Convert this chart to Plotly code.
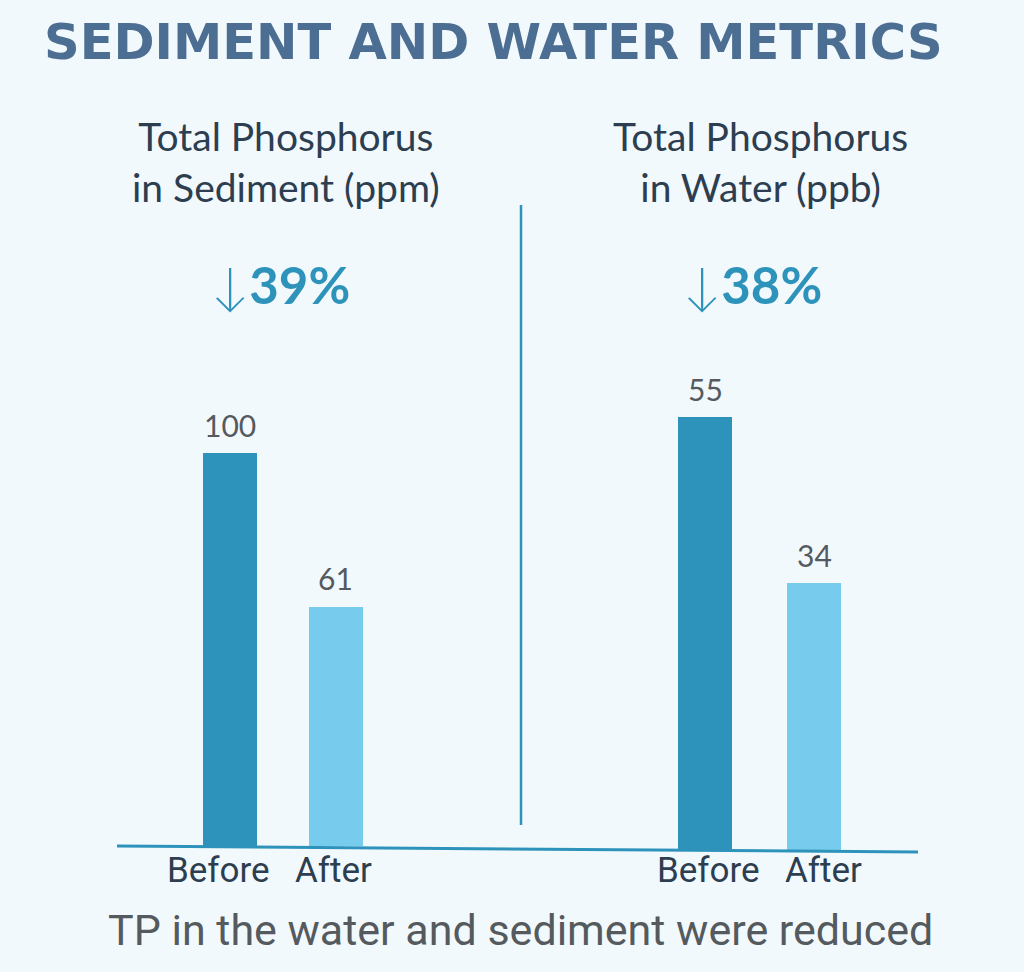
import plotly.graph_objects as go

W, H = 1024, 972

categories = ["Before", "After"]
sediment_values = [100, 61]
water_values = [55, 34]
panel_titles = ["Total Phosphorus<br>in Sediment (ppm)", "Total Phosphorus<br>in Water (ppb)"]
reductions = ["39%", "38%"]
main_title = "SEDIMENT AND WATER METRICS"
footer = "TP in the water and sediment were reduced"

BG = "#f2f9fd"
DARK = "#2e93bb"
LIGHT = "#77cbec"
TITLE_C = "#4b6e92"
TEXT_DARK = "#2c3e50"
GRAY = "#555a5e"


def px(x):
    return x / W


def py(y):
    return 1 - y / H


fig = go.Figure()

fig.add_trace(go.Bar(x=categories, y=sediment_values, marker_color=[DARK, LIGHT],
                     marker_line_width=0, width=0.51, xaxis="x", yaxis="y",
                     showlegend=False, hoverinfo="skip"))
fig.add_trace(go.Bar(x=categories, y=water_values, marker_color=[DARK, LIGHT],
                     marker_line_width=0, width=0.49, xaxis="x2", yaxis="y2",
                     showlegend=False, hoverinfo="skip"))

ann = []
for xa, ya, vals in (("x", "y", sediment_values), ("x2", "y2", water_values)):
    for c, v in zip(categories, vals):
        ann.append(dict(x=c, y=v, xref=xa, yref=ya, text=str(v), showarrow=False,
                        yanchor="bottom", yshift=8,
                        font=dict(family="Lato", size=30, color=GRAY)))

# category labels under the baseline
label_shift = {("x", "Before"): -12, ("x", "After"): -2, ("x2", "Before"): 3, ("x2", "After"): 9}
for xa in ("x", "x2"):
    for c in categories:
        ann.append(dict(x=c, y=py(870), xref=xa, yref="paper", text=c, showarrow=False,
                        xanchor="center", yanchor="middle", xshift=label_shift[(xa, c)],
                        font=dict(family="Roboto", size=35, color=TEXT_DARK)))

# panel titles
for cx, t in ((286, panel_titles[0]), (760, panel_titles[1])):
    ann.append(dict(x=px(cx), y=py(162), xref="paper", yref="paper", text=t,
                    showarrow=False, xanchor="center", yanchor="middle",
                    font=dict(family="Lato", size=39, color=TEXT_DARK)))

# reduction badges
for cx, r in ((280, reductions[0]), (752, reductions[1])):
    ann.append(dict(x=px(cx), y=py(285), xref="paper", yref="paper",
                    text="<span style='font-weight:300'>↓</span><b>" + r + "</b>",
                    showarrow=False, xanchor="center", yanchor="middle",
                    font=dict(family="Lato", size=51, color=DARK)))

ann.append(dict(x=px(42), y=py(42), xref="paper", yref="paper", text="<b>" + main_title + "</b>",
                showarrow=False, xanchor="left", yanchor="middle",
                font=dict(family="DejaVu Sans", size=49.5, color=TITLE_C)))
ann.append(dict(x=px(520), y=py(930), xref="paper", yref="paper", text=footer,
                showarrow=False, xanchor="center", yanchor="middle",
                font=dict(family="Roboto", size=43, color=GRAY)))

shapes = [
    dict(type="line", xref="paper", yref="paper", x0=px(117), y0=py(846), x1=px(918), y1=py(852),
         line=dict(color=DARK, width=3), layer="above"),
    dict(type="line", xref="paper", yref="paper", x0=px(521), y0=py(205), x1=px(521), y1=py(825),
         line=dict(color=DARK, width=2.5)),
]

left_base, left_scale, left_top = 846, 3.93, 110
right_base, right_scale, right_top = 851, 7.89, 60

axis_common = dict(showgrid=False, zeroline=False, showline=False)
fig.update_layout(
    width=W, height=H, margin=dict(l=0, r=0, t=0, b=0),
    paper_bgcolor=BG, plot_bgcolor=BG, bargap=0,
    xaxis=dict(domain=[px(177.25), px(388.75)], range=[-0.5, 1.5], anchor="y",
               showticklabels=False, **axis_common),
    yaxis=dict(domain=[py(left_base), py(left_base - left_top * left_scale)], range=[0, left_top],
               anchor="x", showticklabels=False, **axis_common),
    xaxis2=dict(domain=[px(650.25), px(869.25)], range=[-0.5, 1.5], anchor="y2",
                showticklabels=False, **axis_common),
    yaxis2=dict(domain=[py(right_base), py(right_base - right_top * right_scale)], range=[0, right_top],
                anchor="x2", showticklabels=False, **axis_common),
    annotations=ann, shapes=shapes,
)

fig.write_html("out.html")
